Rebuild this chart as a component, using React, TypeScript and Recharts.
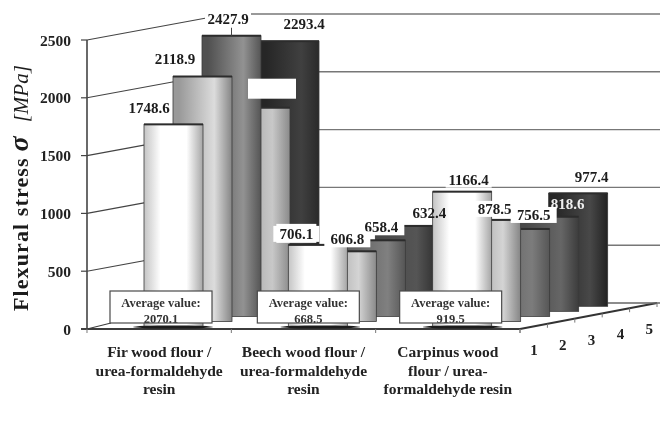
import React from "react";
import { BarChart, Bar, XAxis, YAxis, CartesianGrid, LabelList } from "recharts";

const categories = ["Fir wood flour / urea-formaldehyde resin", "Beech wood flour / urea-formaldehyde resin", "Carpinus wood flour / urea-formaldehyde resin"];
const categoryLines = [
  ["Fir wood flour /", "urea-formaldehyde", "resin"],
  ["Beech wood flour /", "urea-formaldehyde", "resin"],
  ["Carpinus wood", "flour / urea-", "formaldehyde resin"],
];
const series1 = [1748.6, 706.1, 1166.4];
const series2 = [2118.9, 606.8, 878.5];
const series3 = [2427.9, 658.4, 756.5];
const series4 = [1761.7, 739.0, 818.6];
const series5 = [2293.4, 632.4, 977.4];
const averages = ["2070.1", "668.5", "919.5"];
const depthLabels = ["1", "2", "3", "4", "5"];
const yTicks = [0, 500, 1000, 1500, 2000, 2500];

const data = categories.map((name, i) => ({
  name,
  s1: series1[i],
  s2: series2[i],
  s3: series3[i],
  s4: series4[i],
  s5: series5[i],
}));

const SERIF = "'Liberation Serif', serif";
const ROW_DX = 29;
const ROW_DY = 5.05;
const FRONT_DX = 57;
const FRONT_DY = 2.5;
const BAR_W = 59;
const WALL_DX = 141;
const WALL_DY = 26;

// [left, centre, right] of each row / category
const shades = [
  [["#c4c4c4", "#ffffff", "#a6a6a6"], ["#c4c4c4", "#ffffff", "#a6a6a6"], ["#c4c4c4", "#ffffff", "#a6a6a6"]],
  [["#999999", "#dcdcdc", "#858585"], ["#999999", "#d4d4d4", "#8a8a8a"], ["#999999", "#d4d4d4", "#858585"]],
  [["#505050", "#929292", "#555555"], ["#606060", "#808080", "#555555"], ["#606060", "#7c7c7c", "#565656"]],
  [["#999999", "#c8c8c8", "#8a8a8a"], ["#484848", "#555555", "#333333"], ["#484848", "#666666", "#3c3c3c"]],
  [["#262626", "#404040", "#2a2a2a"], ["#262626", "#404040", "#2a2a2a"], ["#262626", "#484848", "#222222"]],
];

// label placement relative to the top centre of its bar
const labelStyle = [
  [{ dx: -24.5, dy: -16, bg: 1 }, { dx: -21.5, dy: -11, bg: 1, box: 1 }, { dx: 6.5, dy: -12, bg: 1 }],
  [{ dx: -27.5, dy: -18, bg: 1 }, { dx: 0.5, dy: -12, bg: 1 }, { dx: 3.5, dy: -11, bg: 1 }],
  [{ dx: -3.5, dy: -17, bg: 1, stem: 1 }, { dx: 5.5, dy: -13, bg: 1 }, { dx: 13.5, dy: -14, bg: 1 }],
  [{ dx: 11.5, dy: -19, mask: 1 }, { hide: 1 }, { dx: 18.5, dy: -13, light: 1 }],
  [{ dx: 14.5, dy: -17, bg: 1 }, { dx: -4.5, dy: -20 }, { dx: 13.5, dy: -16, bg: 1 }],
];
const avgDx = [1.5, 4.5, 2.5];

const rowX = (x: number, w: number, slot: number, row: number) => x - slot * w + FRONT_DX + ROW_DX * row;
const rowShift = (row: number) => FRONT_DY + ROW_DY * row;

function Cylinder(p: any) {
  const { x, y, width, height, index, row, slot } = p;
  const left = rowX(x, width, slot, row);
  const top = y - rowShift(row);
  return (
    <g>
      <rect x={left} y={top} width={BAR_W} height={height} fill={`url(#g${row}${index})`} stroke="#3a3a3a" strokeWidth={0.8} />
      <rect x={left} y={top - 1} width={BAR_W} height={2} fill="#2c2c2c" />
    </g>
  );
}

function ValueLabel(p: any) {
  const { x, y, width, value, index, row, slot } = p;
  const st: any = labelStyle[row][index];
  if (st.hide) return null;
  const barCx = rowX(x, width, slot, row) + BAR_W / 2;
  const top = y - rowShift(row);
  const cx = barCx + st.dx;
  const cy = top + st.dy;
  if (st.mask) return <rect x={cx - 24} y={cy - 10} width={48} height={20} fill="#ffffff" />;
  return (
    <g>
      {st.stem ? <line x1={barCx} y1={top - 8} x2={barCx} y2={top} stroke="#444444" strokeWidth={1} /> : null}
      {st.bg ? <rect x={cx - 23} y={cy - 8} width={46} height={16} fill="#ffffff" /> : null}
      {st.box ? <rect x={cx - 20} y={cy - 10} width={40} height={19} fill="#ffffff" /> : null}
      <text x={cx} y={cy + 5} textAnchor="middle" fontFamily={SERIF} fontWeight="bold" fontSize={15} fill={st.light ? "#eeeeee" : "#1c1c1c"}>
        {Number(value).toFixed(1)}
      </text>
    </g>
  );
}

function AverageBox(p: any) {
  const { x, width, index } = p;
  const catCx = x - 4 * width + (5 * width) / 2;
  const cx = catCx + avgDx[index];
  const yTop = 291;
  return (
    <g>
      <ellipse cx={cx + 12} cy={327} rx={40} ry={1.6} fill="#1c1c1c" />
      <rect x={cx - 51} y={yTop} width={102} height={32} fill="#ffffff" />
      <text x={cx} y={yTop + 15.5} textAnchor="middle" fontFamily={SERIF} fontWeight="bold" fontSize={12.5} fill="#333333">
        Average value:
      </text>
      <text x={cx} y={yTop + 32} textAnchor="middle" fontFamily={SERIF} fontWeight="bold" fontSize={12.5} fill="#333333">
        {averages[index]}
      </text>
      <rect x={cx - 51} y={yTop} width={102} height={32} fill="none" stroke="#4a4a4a" strokeWidth={1.2} />
    </g>
  );
}

function WallLine(p: any) {
  const { x1, y1, x2 } = p;
  const cornerX = x1 + WALL_DX;
  const cornerY = y1 - WALL_DY;
  if (y1 > 320) {
    return (
      <g>
        <line x1={x1 - 6} y1={y1} x2={x2} y2={y1} stroke="#3c3c3c" strokeWidth={2} />
        <line x1={x1} y1={y1} x2={x1 + 24} y2={y1 - 6} stroke="#3c3c3c" strokeWidth={1.2} />
        <line x1={x2} y1={y1} x2={x2 + 137} y2={cornerY} stroke="#333333" strokeWidth={2} />
        <line x1={cornerX} y1={cornerY} x2={660} y2={cornerY} stroke="#666666" strokeWidth={1.4} />
        {[0, 1, 2, 3, 4, 5].map((i) => (
          <line key={i} x1={x2 + 27.4 * i} y1={y1 - 5.2 * i} x2={x2 + 27.4 * i} y2={y1 - 5.2 * i + 4} stroke="#777777" strokeWidth={1} />
        ))}
        {depthLabels.map((t, i) => (
          <text key={t} x={x2 + 14 + 28.8 * i} y={y1 + 26 - 5.2 * i} textAnchor="middle" fontFamily={SERIF} fontWeight="bold" fontSize={15} fill="#222222">
            {t}
          </text>
        ))}
      </g>
    );
  }
  return (
    <g>
      <line x1={x1} y1={y1} x2={cornerX} y2={cornerY} stroke="#444444" strokeWidth={1.1} />
      <line x1={cornerX} y1={cornerY} x2={660} y2={cornerY} stroke="#777777" strokeWidth={1.4} />
    </g>
  );
}

function CategoryTick(p: any) {
  const { x, y, index } = p;
  const half = 72.17;
  return (
    <g>
      <line x1={x + half} y1={y - 8} x2={x + half} y2={y - 4} stroke="#777777" />
      {index === 0 ? <line x1={x - half} y1={y - 8} x2={x - half} y2={y - 4} stroke="#777777" /> : null}
      {categoryLines[index].map((line, i) => (
        <text key={line} x={x} y={y + 20 + 18.7 * i} textAnchor="middle" fontFamily={SERIF} fontWeight="bold" fontSize={15.5} fill="#222222">
          {line}
        </text>
      ))}
    </g>
  );
}

export default function App() {
  return (
    <div style={{ position: "absolute", left: 0, top: 0, width: 660, height: 428, background: "#fff", filter: "blur(0.55px)" }}>
      <BarChart width={660} height={428} data={data} margin={{ top: 40, right: 140, bottom: 0, left: 0 }} barCategoryGap={0} barGap={0}>
        <defs>
          {shades.map((row, r) =>
            row.map((c, g) => (
              <linearGradient key={`${r}${g}`} id={`g${r}${g}`} x1="0" y1="0" x2="1" y2="0">
                <stop offset="0" stopColor={c[0]} />
                <stop offset={r === 0 ? "0.28" : "0.1"} stopColor={r === 0 ? c[1] : c[0]} />
                <stop offset={r === 0 ? "0.72" : "0.7"} stopColor={c[1]} />
                <stop offset="1" stopColor={c[2]} />
              </linearGradient>
            ))
          )}
        </defs>
        <CartesianGrid vertical={false} horizontal={(p: any) => <WallLine key={p.key} {...p} />} />
        <XAxis dataKey="name" height={99} interval={0} tickLine={false} axisLine={false} tick={<CategoryTick />} />
        <YAxis
          width={87}
          domain={[0, 2500]}
          ticks={yTicks}
          tickSize={6}
          tickMargin={10}
          axisLine={{ stroke: "#444444", strokeWidth: 1.6 }}
          tickLine={{ stroke: "#444444", strokeWidth: 1.2 }}
          tick={{ fontFamily: SERIF, fontWeight: "bold", fontSize: 15.5, fill: "#222222" }}
        />
        {[4, 3, 2, 1, 0].map((row, slot) => (
          <Bar
            key={row}
            dataKey={`s${row + 1}`}
            isAnimationActive={false}
            shape={(p: any) => <Cylinder {...p} row={row} slot={slot} />}
          >
            <LabelList
              dataKey={`s${row + 1}`}
              content={(p: any) => <ValueLabel {...p} row={row} slot={slot} />}
            />
            {row === 0 ? <LabelList dataKey="s1" content={(p: any) => <AverageBox {...p} />} /> : null}
          </Bar>
        ))}
        <text transform="translate(28,311) rotate(-90)" fontFamily={SERIF} fill="#1c1c1c">
          <tspan fontWeight="bold" fontSize={22} letterSpacing={1.1}>Flexural stress</tspan>
          <tspan dx={6} fontWeight="bold" fontStyle="italic" fontSize={28}>σ</tspan>
          <tspan dx={14} fontStyle="italic" fontSize={21}>[MPa]</tspan>
        </text>
      </BarChart>
    </div>
  );
}
